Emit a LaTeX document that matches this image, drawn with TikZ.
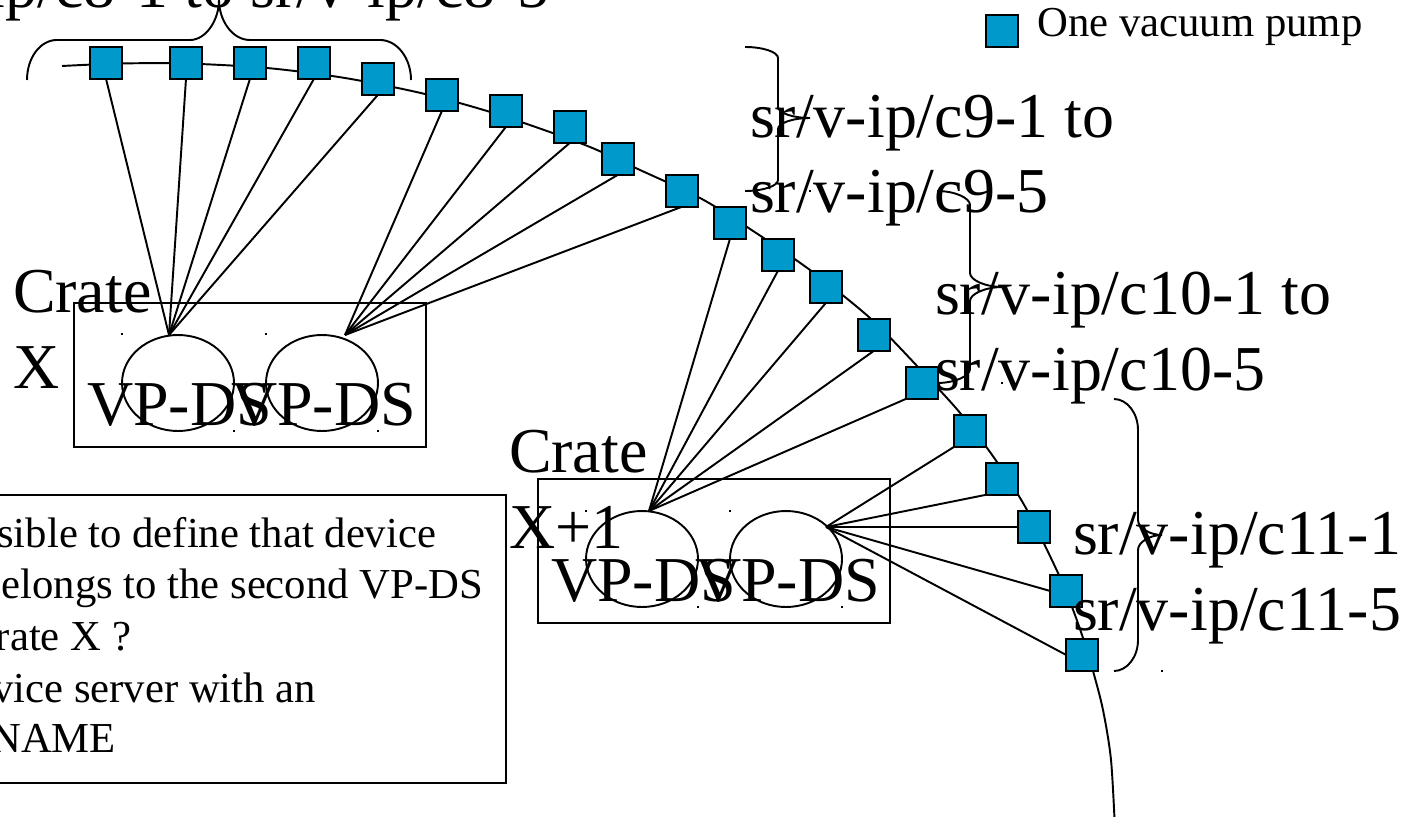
\documentclass[tikz,border=0pt]{standalone}
\usepackage{fontspec}
\usetikzlibrary{shapes.geometric}
\setmainfont{Liberation Serif}
\definecolor{pumpblue}{RGB}{0,153,204}
\tikzset{
  pump/.style={draw,fill=pumpblue,line width=1.1pt,minimum size=0.63cm,inner sep=0pt,outer sep=0pt},
  cratebox/.style={draw,line width=1.1pt,minimum width=7.04cm,minimum height=2.88cm,inner sep=0pt,outer sep=0pt},
  dsring/.style={draw,ellipse,line width=1.1pt,minimum width=2.24cm,minimum height=1.92cm,inner sep=0pt,outer sep=0pt},
  biglabel/.style={font=\fontsize{36.4}{43.2}\selectfont,align=left,inner sep=0pt,outer sep=0pt},
  notetext/.style={font=\fontsize{24.3}{29.2}\selectfont,inner sep=0pt,outer sep=0pt,anchor=base east},
  tick/.style={fill=black,minimum size=0.05cm,inner sep=0pt,outer sep=0pt},
  wire/.style={line width=1.1pt}
}
\begin{document}
\begin{tikzpicture}[x=0.02cm,y=-0.02cm]
    \path[use as bounding box,clip] (0,0) rectangle (1405,817);

    % Trunk line
    \draw[wire] plot[smooth] coordinates {(62,66) (120,63.5) (186,63.5) (267,68) (345,78) (425,94) (500,115) (585,145) (640,170) (700,198) (747,227) (810,270) (870,318) (918,367) (961,414) (997,462) (1027,510) (1058,573) (1072,607) (1083,638) (1093,671) (1103,710) (1111,760) (1115,830)};

    % Crates
    \node[cratebox] (crateA) at (250,375) {};
    \node[cratebox] (crateB) at (714,551) {};

    % VP-DS rings
    \node[dsring] (dsA) at (178,383) {};
    \node[dsring] (dsB) at (322,383) {};
    \node[dsring] (dsC) at (642,559) {};
    \node[dsring] (dsD) at (786,559) {};

    % Fan sources
    \coordinate (fanA) at (169,335);
    \coordinate (fanB) at (345,335);
    \coordinate (fanC) at (649,511);
    \coordinate (fanD) at (826,527);

    % Pumps
    \node[pump] (pump1) at (106,63) {};
    \node[pump] (pump2) at (186,63) {};
    \node[pump] (pump3) at (250,63) {};
    \node[pump] (pump4) at (314,63) {};
    \node[pump] (pump5) at (378,79) {};
    \node[pump] (pump6) at (442,95) {};
    \node[pump] (pump7) at (506,111) {};
    \node[pump] (pump8) at (570,127) {};
    \node[pump] (pump9) at (618,159) {};
    \node[pump] (pump10) at (682,191) {};
    \node[pump] (pump11) at (730,223) {};
    \node[pump] (pump12) at (778,255) {};
    \node[pump] (pump13) at (826,287) {};
    \node[pump] (pump14) at (874,335) {};
    \node[pump] (pump15) at (922,383) {};
    \node[pump] (pump16) at (970,431) {};
    \node[pump] (pump17) at (1002,479) {};
    \node[pump] (pump18) at (1034,527) {};
    \node[pump] (pump19) at (1066,591) {};
    \node[pump] (pump20) at (1082,655) {};
    \node[pump] (legend) at (1002,31) {};

    % Cables to first crate
    \draw[wire] (fanA) -- (pump1.south);
    \draw[wire] (fanA) -- (pump2.south);
    \draw[wire] (fanA) -- (pump3.south);
    \draw[wire] (fanA) -- (pump4.south);
    \draw[wire] (fanA) -- (pump5.south);
    \draw[wire] (fanB) -- (pump6.south);
    \draw[wire] (fanB) -- (pump7.south);
    \draw[wire] (fanB) -- (pump8.south);
    \draw[wire] (fanB) -- (pump9.south);
    \draw[wire] (fanB) -- (pump10.south);

    % Cables to second crate
    \draw[wire] (fanC) -- (pump11.south);
    \draw[wire] (fanC) -- (pump12.south);
    \draw[wire] (fanC) -- (pump13.south);
    \draw[wire] (fanC) -- (pump14.south);
    \draw[wire] (fanC) -- (pump15.south west);
    \draw[wire] (fanD) -- (pump16.south west);
    \draw[wire] (fanD) -- (pump17.south west);
    \draw[wire] (fanD) -- (pump18.west);
    \draw[wire] (fanD) -- (pump19.west);
    \draw[wire] (fanD) -- (pump20.west);

    % Braces
    \draw[wire] (27,80) .. controls (27,58) and (40,40) .. (57,40) -- (190,40) .. controls (206,40) and (219,20) .. (219,0) .. controls (219,20) and (232,40) .. (250,40) -- (380,40) .. controls (397,40) and (411,58) .. (411,80);
    \draw[wire] (745,47) .. controls (763,47) and (778,52) .. (778,58) -- (778,107) .. controls (778,113) and (793,118) .. (810,118) .. controls (793,118) and (778,123) .. (778,129) -- (778,180) .. controls (778,186) and (763,191) .. (745,191);
    \draw[wire] (937,191) .. controls (955,191) and (970,198) .. (970,205) -- (970,273) .. controls (970,280) and (985,287) .. (1003,287) .. controls (985,287) and (970,294) .. (970,301) -- (970,369) .. controls (970,376) and (955,383) .. (937,383);
    \draw[wire] (1114,399) .. controls (1127,399) and (1138,413) .. (1138,430) -- (1138,520) .. controls (1138,528) and (1150,535) .. (1162,535) .. controls (1150,535) and (1138,542) .. (1138,550) -- (1138,640) .. controls (1138,657) and (1127,671) .. (1114,671);

    % Selection marks
    \node[tick] (mark1) at (122,334) {};
    \node[tick] (mark2) at (266,334) {};
    \node[tick] (mark3) at (234,431) {};
    \node[tick] (mark4) at (378,431) {};
    \node[tick] (mark5) at (586,511) {};
    \node[tick] (mark6) at (730,511) {};
    \node[tick] (mark7) at (698,607) {};
    \node[tick] (mark8) at (842,607) {};
    \node[tick] (mark9) at (810,191) {};
    \node[tick] (mark10) at (1002,383) {};
    \node[tick] (mark11) at (1162,671) {};

    % Labels for crates
    \node[biglabel,anchor=base west] (nameA) at (13,388) {Crate\\X};
    \node[biglabel,anchor=base west] (nameB) at (509,548) {Crate\\X+1};
    \node[biglabel,anchor=base] (textA) at (179.5,425) {VP-DS};
    \node[biglabel,anchor=base] (textB) at (323.5,425) {VP-DS};
    \node[biglabel,anchor=base] (textC) at (643.5,601) {VP-DS};
    \node[biglabel,anchor=base] (textD) at (787.5,601) {VP-DS};

    % Labels for pump groups
    \node[biglabel,anchor=base east] (groupE) at (549,8) {ip/c8-1 to sr/v-ip/c8-5};
    \node[biglabel,anchor=base west] (groupN) at (750,213) {sr/v-ip/c9-1 to\\sr/v-ip/c9-5};
    \node[biglabel,anchor=base west] (groupT) at (935,390) {sr/v-ip/c10-1 to\\sr/v-ip/c10-5};
    \node[biglabel,anchor=base west] (groupL) at (1073,630) {sr/v-ip/c11-1\\sr/v-ip/c11-5};
    \node[notetext,anchor=base west] (legendtext) at (1037.5,37) {One vacuum pump};

    % Question box
    \draw[wire] (-10,495) rectangle (506,783);
    \node[notetext] (line1) at (436,547) {sible to define that device};
    \node[notetext] (line2) at (483,598) {belongs to the second VP-DS};
    \node[notetext] (line3) at (131,650) {rate X ?};
    \node[notetext] (line4) at (316,702) {vice server with an};
    \node[notetext] (line5) at (116,752) {NAME};
\end{tikzpicture}
\end{document}
